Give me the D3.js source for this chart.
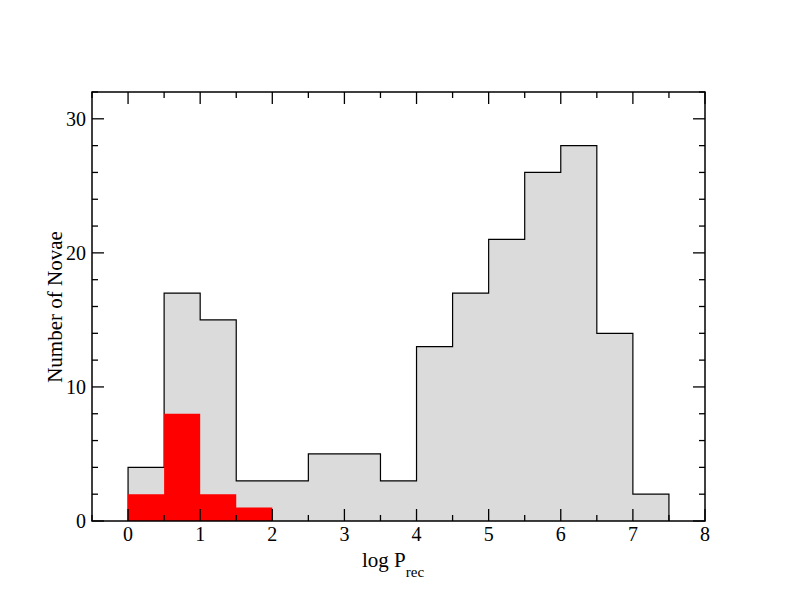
<!DOCTYPE html>
<html>
<head>
<meta charset="utf-8">
<script src="https://cdn.jsdelivr.net/npm/d3@7"></script>
<style>
  body { margin: 0; background: #fff; }
  text { font-family: "Liberation Serif", "Times New Roman", serif; fill: #000; }
</style>
</head>
<body>
<div id="chart"></div>
<script>
// histogram bins, width 0.5 in log P_rec
var binEdges = [0, 0.5, 1, 1.5, 2, 2.5, 3, 3.5, 4, 4.5, 5, 5.5, 6, 6.5, 7, 7.5];
var allCounts = [4, 17, 15, 3, 3, 5, 5, 3, 13, 17, 21, 26, 28, 14, 2];
var recCounts = [2, 8, 2, 1];

var xMajor = [0, 1, 2, 3, 4, 5, 6, 7, 8];
var yMajor = [0, 10, 20, 30];

var svgWidth = 793;
var svgHeight = 613;

var margin = { top: 92, right: 88, bottom: 92, left: 92 };
var width = 705 - margin.left;
var height = 521 - margin.top;

var svg = d3.select("#chart")
  .append("svg")
  .attr("width", svgWidth)
  .attr("height", svgHeight);

var chartGroup = svg.append("g")
  .attr("transform", `translate(${margin.left}, ${margin.top})`);

var x = d3.scaleLinear().domain([-0.5, 8]).range([0, width]);
var y = d3.scaleLinear().domain([0, 32]).range([height, 0]);

// turn counts into step points
function stepPoints(counts) {
  var pts = [[binEdges[0], 0]];
  counts.forEach(function(c, i) { pts.push([binEdges[i], c]); });
  var last = binEdges[counts.length];
  pts.push([last, counts[counts.length - 1]]);
  pts.push([last, 0]);
  return pts;
}

var stepLine = d3.line()
  .x(d => x(d[0]))
  .y(d => y(d[1]))
  .curve(d3.curveStepAfter);

// gray histogram (all novae)
chartGroup.append("path")
  .datum(stepPoints(allCounts))
  .attr("d", stepLine)
  .attr("fill", "#dbdbdb")
  .attr("stroke", "#000")
  .attr("stroke-width", 1.2);

// red histogram (recurrent)
chartGroup.append("path")
  .datum(stepPoints(recCounts))
  .attr("d", stepLine)
  .attr("fill", "#ff0000")
  .attr("stroke", "none");

// ticks, inward on all sides
var xMinor = d3.range(-0.5, 8.01, 0.5).filter(v => xMajor.indexOf(v) < 0);
var yMinor = d3.range(0, 32.01, 2).filter(v => yMajor.indexOf(v) < 0);

function drawTicks(g, scale, vals, len, horizontal) {
  vals.forEach(function(v) {
    if (horizontal) {
      g.append("line").attr("x1", scale(v)).attr("x2", scale(v))
        .attr("y1", height).attr("y2", height - len);
      g.append("line").attr("x1", scale(v)).attr("x2", scale(v))
        .attr("y1", 0).attr("y2", len);
    } else {
      g.append("line").attr("y1", scale(v)).attr("y2", scale(v))
        .attr("x1", 0).attr("x2", len);
      g.append("line").attr("y1", scale(v)).attr("y2", scale(v))
        .attr("x1", width).attr("x2", width - len);
    }
  });
}

var tickGroup = chartGroup.append("g")
  .attr("stroke", "#000")
  .attr("stroke-width", 1.3);

drawTicks(tickGroup, x, xMajor, 12, true);
drawTicks(tickGroup, x, xMinor, 6, true);
drawTicks(tickGroup, y, yMajor, 12, false);
drawTicks(tickGroup, y, yMinor, 6, false);

// frame
chartGroup.append("rect")
  .attr("x", 0).attr("y", 0)
  .attr("width", width).attr("height", height)
  .attr("fill", "none")
  .attr("stroke", "#000")
  .attr("stroke-width", 1.5);

// tick labels
chartGroup.selectAll(".xlab")
  .data(xMajor)
  .enter()
  .append("text")
  .attr("x", d => x(d))
  .attr("y", height + 20)
  .attr("text-anchor", "middle")
  .attr("font-size", 20)
  .text(d => d);

chartGroup.selectAll(".ylab")
  .data(yMajor)
  .enter()
  .append("text")
  .attr("x", -6)
  .attr("y", d => y(d) + 7)
  .attr("text-anchor", "end")
  .attr("font-size", 20)
  .text(d => d);

// axis titles
var xTitle = svg.append("text")
  .attr("x", 362)
  .attr("y", 567)
  .attr("font-size", 21);
xTitle.append("tspan").text("log P");
xTitle.append("tspan").attr("dy", 10).attr("font-size", 15).text("rec");

svg.append("text")
  .attr("transform", "translate(62, 307) rotate(-90)")
  .attr("text-anchor", "middle")
  .attr("font-size", 21)
  .text("Number of Novae");
</script>
</body>
</html>
